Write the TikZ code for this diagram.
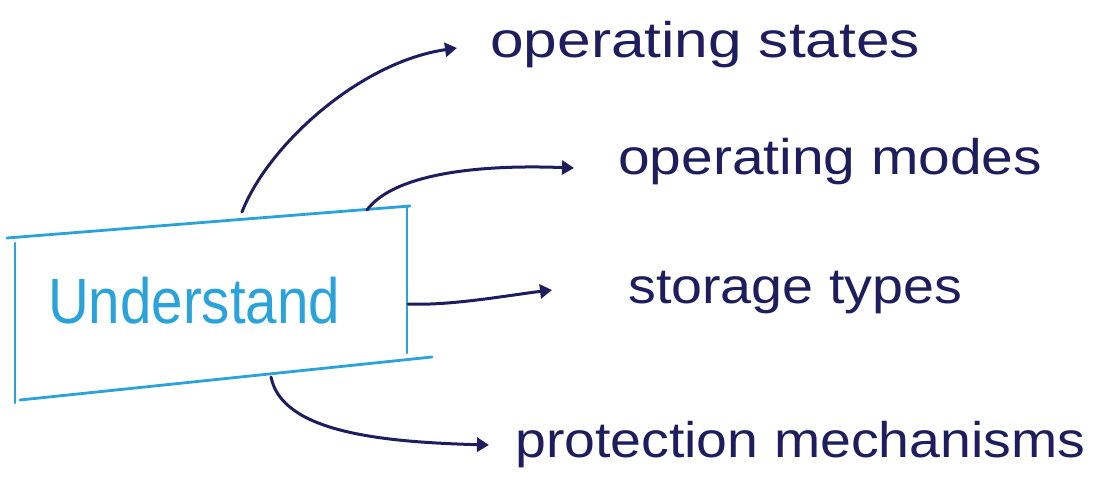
\documentclass[tikz,border=0pt]{standalone}
\usepackage{fontspec}
\setmainfont{Liberation Sans}
\usetikzlibrary{arrows.meta}
\definecolor{ink}{HTML}{1E1E5E}
\definecolor{penblue}{HTML}{2AA3DA}
% stretch a label horizontally to a given width, keeping its height
\newcommand\fitw[2]{\resizebox{#1}{\height}{#2}}
\tikzset{
  boxline/.style={draw=penblue, line width=2.8pt, line cap=round},
  inkarrow/.style={draw=ink, line width=3pt, line cap=round,
    -{Triangle[length=12pt,width=14pt]}},
  label/.style={text=ink, font=\fontsize{50}{52}\selectfont, inner sep=0pt, anchor=base west},
}
\begin{document}
\begin{tikzpicture}[x=1pt,y=-1pt]
\useasboundingbox (0,0) rectangle (1095,481);
\fill[white] (0,0) rectangle (1095,481);

% hand-drawn box around the main word
\coordinate (tl) at (7,238);
\coordinate (tr) at (410,206);
\coordinate (ltop) at (15,243);
\coordinate (lbot) at (15,403);
\coordinate (bl) at (20,400);
\coordinate (br) at (432,357);
\coordinate (rtop) at (407,206);
\coordinate (rbot) at (407,353);
\draw[boxline] (tl) -- (tr);
\draw[boxline] (ltop) -- (lbot);
\draw[boxline] (bl) -- (br);
\draw[boxline] (rtop) -- (rbot);

\node[text=penblue, font=\fontsize{64}{66}\selectfont, inner sep=0pt, anchor=base west]
  (main) at (48,323) {\fitw{292pt}{Understand}};

% branch labels
\node[label] (states) at (490,58) {\fitw{430pt}{operating states}};
\node[label] (modes) at (618,175) {\fitw{424pt}{operating modes}};
\node[label] (storage) at (628,303) {\fitw{334pt}{storage types}};
\node[label] (protect) at (515,457) {\fitw{570pt}{protection mechanisms}};

% connector ends
\coordinate (s1) at (242,212);
\coordinate (e1) at (457,48);
\coordinate (s2) at (367,210);
\coordinate (e2) at (574,168);
\coordinate (s3) at (408,304);
\coordinate (e3) at (552,290);
\coordinate (s4) at (271,377);
\coordinate (e4) at (489,445);

\draw[inkarrow] (s1) .. controls (268,145) and (360,62) .. (e1);
\draw[inkarrow] (s2) .. controls (392,176) and (470,164) .. (e2);
\draw[inkarrow] (s3) .. controls (450,306) and (510,295) .. (e3);
\draw[inkarrow] (s4) .. controls (282,432) and (380,442) .. (e4);
\end{tikzpicture}
\end{document}
